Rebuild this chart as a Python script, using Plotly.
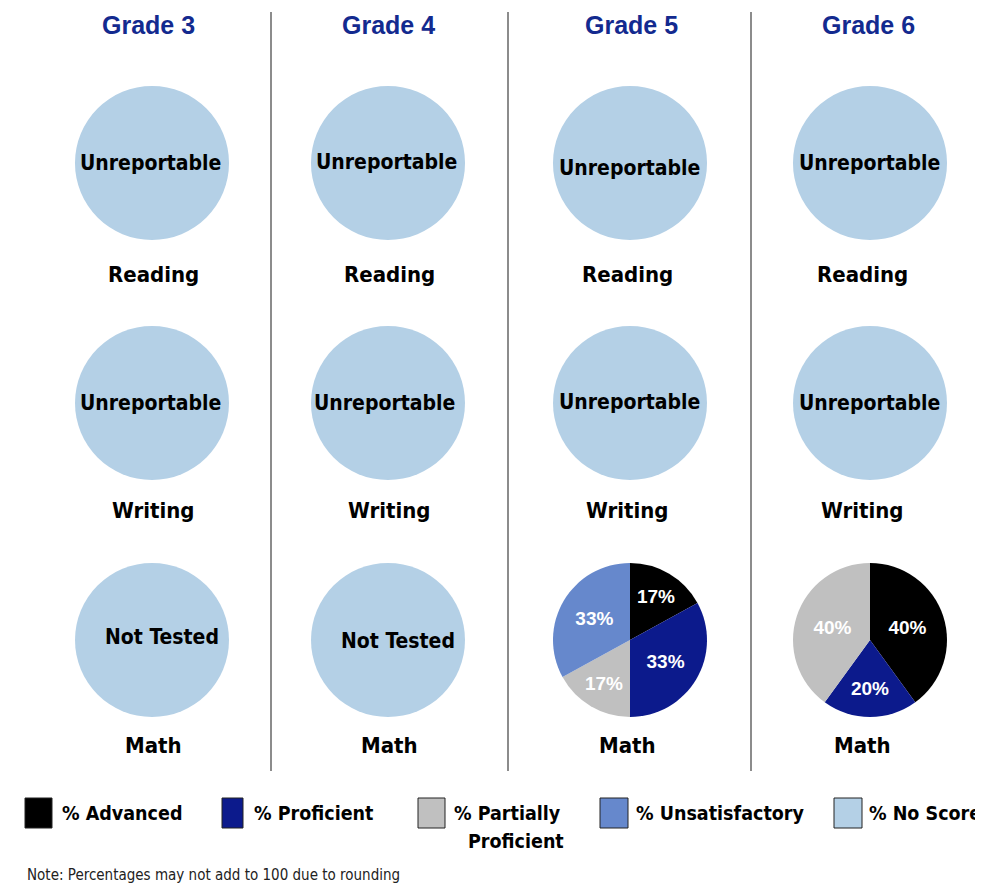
import plotly.graph_objects as go

# the page has an 8px body margin, so the figure is 8px smaller and
# positions taken from the reference image are shifted by 8
OFF = 8
W, H = 983 - OFF, 889 - OFF
NARROW = "Liberation Sans Narrow, Arial Narrow, DejaVu Sans Condensed, sans-serif"
ARIAL = "Liberation Sans, Arial, sans-serif"


def px(x):
    return (x - OFF) / W


def py(y):
    return 1 - (y - OFF) / H


grades = ["Grade 3", "Grade 4", "Grade 5", "Grade 6"]
subjects = ["Reading", "Writing", "Math"]
levels = ["% Advanced", "% Proficient", "% Partially<br>Proficient",
          "% Unsatisfactory", "% No Score"]
colors = ["#000000", "#0c1a8c", "#c0c0c0", "#6688cc", "#b4d0e6"]

# percentages per level (Advanced, Proficient, Partial, Unsatisfactory, No Score)
grade5_math = [17, 33, 17, 33, 0]
grade6_math = [40, 20, 40, 0, 0]
no_score = [0, 0, 0, 0, 100]

cells = {
    ("Grade 3", "Reading"): "Unreportable", ("Grade 3", "Writing"): "Unreportable",
    ("Grade 3", "Math"): "Not Tested",
    ("Grade 4", "Reading"): "Unreportable", ("Grade 4", "Writing"): "Unreportable",
    ("Grade 4", "Math"): "Not Tested",
    ("Grade 5", "Reading"): "Unreportable", ("Grade 5", "Writing"): "Unreportable",
    ("Grade 5", "Math"): grade5_math,
    ("Grade 6", "Reading"): "Unreportable", ("Grade 6", "Writing"): "Unreportable",
    ("Grade 6", "Math"): grade6_math,
}

col_x = [152, 388, 630, 870]
row_y = [163, 403, 640]
R = 77
title_x = [148, 388, 631, 868]
label_x = [153, 389, 627, 862]
label_y = [274, 511, 745]
note_pos = {
    ("Grade 3", "Reading"): (150, 163), ("Grade 4", "Reading"): (386, 162),
    ("Grade 5", "Reading"): (629, 168), ("Grade 6", "Reading"): (869, 163),
    ("Grade 3", "Writing"): (150, 403), ("Grade 4", "Writing"): (384, 403),
    ("Grade 5", "Writing"): (629, 402), ("Grade 6", "Writing"): (869, 403),
    ("Grade 3", "Math"): (162, 637), ("Grade 4", "Math"): (398, 641),
}

fig = go.Figure()
ann = []
for gi, g in enumerate(grades):
    cx = col_x[gi]
    for si, s in enumerate(subjects):
        cy = row_y[si]
        cell = cells[(g, s)]
        is_note = isinstance(cell, str)
        vals = no_score if is_note else cell
        fig.add_trace(go.Pie(
            values=vals, labels=[lv.replace("<br>", " ") for lv in levels],
            sort=False, direction="clockwise", rotation=0,
            marker=dict(colors=colors, line=dict(width=0)),
            texttemplate=[("<b>%{value}%</b>" if v and not is_note else "") for v in vals],
            textposition="inside", insidetextorientation="horizontal",
            textfont=dict(family=ARIAL, size=19, color="white"),
            showlegend=False, hoverinfo="label+value",
            domain=dict(x=[px(cx - R), px(cx + R)], y=[py(cy + R), py(cy - R)]),
        ))
        if is_note:
            nx, ny = note_pos[(g, s)]
            ann.append(dict(x=px(nx), y=py(ny), text=f"<b>{cell}</b>",
                            xanchor="center", yanchor="middle", showarrow=False,
                            font=dict(family=NARROW, size=21, color="black")))
        ann.append(dict(x=px(label_x[gi]), y=py(label_y[si]), text=f"<b>{s}</b>",
                        xanchor="center", yanchor="middle", showarrow=False,
                        font=dict(family=NARROW, size=22, color="black")))
    ann.append(dict(x=px(title_x[gi]), y=py(25), text=f"<b>{g}</b>",
                    xanchor="center", yanchor="middle", showarrow=False,
                    font=dict(family=ARIAL, size=25, color="#132a8f")))

shapes = []
for lx in [271, 508, 751]:
    shapes.append(dict(type="line", xref="paper", yref="paper", x0=px(lx), x1=px(lx),
                       y0=py(12), y1=py(771), line=dict(color="#666666", width=1.5)))

# legend, drawn by hand to keep the original's spacing
box_x = [25, 222, 418, 600, 834]
box_w = [27, 21, 27, 28, 28]
text_x = [60, 252, 452, 634, 867]
for i, lv in enumerate(levels):
    shapes.append(dict(type="rect", xref="paper", yref="paper",
                       x0=px(box_x[i]), x1=px(box_x[i] + box_w[i]),
                       y0=py(828), y1=py(798), fillcolor=colors[i],
                       line=dict(color="#222222", width=1)))
    first, _, second = lv.partition("<br>")
    ann.append(dict(x=px(text_x[i]), y=py(813), text=f"<b>{first}</b>",
                    xanchor="left", yanchor="middle", showarrow=False,
                    font=dict(family=NARROW, size=19.5, color="black")))
    if second:
        ann.append(dict(x=px(516), y=py(841), text=f"<b>{second}</b>",
                        xanchor="center", yanchor="middle", showarrow=False,
                        font=dict(family=NARROW, size=19.5, color="black")))

ann.append(dict(x=px(25), y=py(875), text="Note: Percentages may not add to 100 due to rounding",
                xanchor="left", yanchor="middle", showarrow=False,
                font=dict(family=NARROW, size=15, color="#222222")))

fig.update_layout(
    width=W, height=H, margin=dict(l=0, r=0, t=0, b=0),
    paper_bgcolor="white", plot_bgcolor="white",
    annotations=ann, shapes=shapes,
)
fig.write_html("out.html")
